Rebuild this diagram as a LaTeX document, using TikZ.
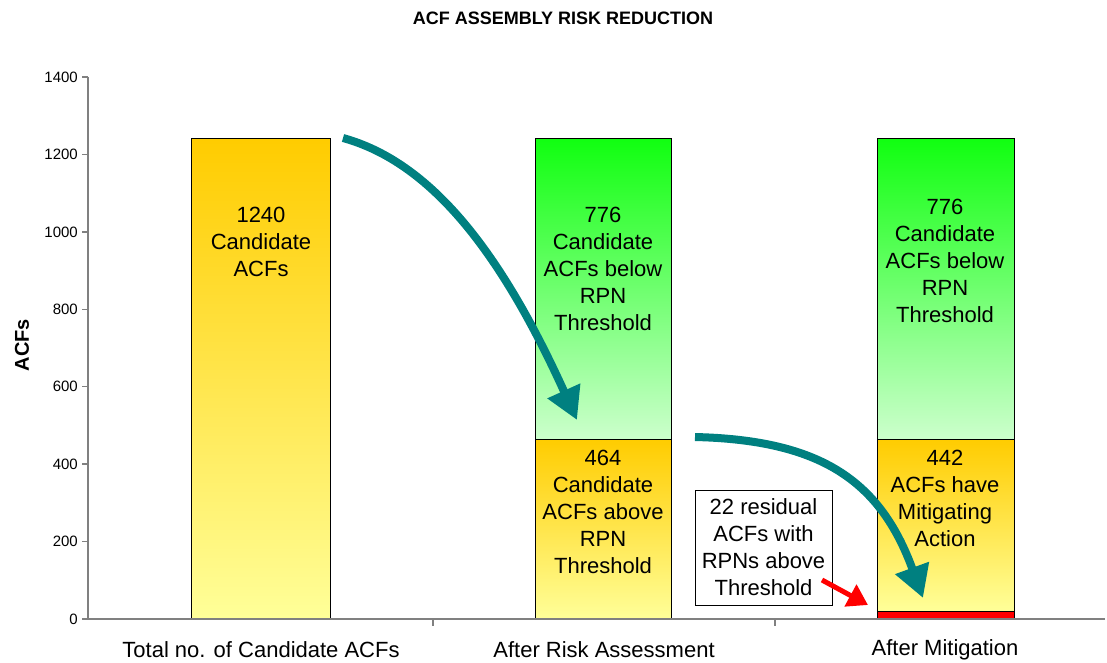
\documentclass[tikz,border=0pt]{standalone}
\usepackage{fontspec}
\setmainfont{Liberation Sans}
\usetikzlibrary{arrows.meta}
\definecolor{teal}{RGB}{0,128,128}
\definecolor{goldtop}{RGB}{255,204,0}
\definecolor{goldbot}{RGB}{255,255,153}
\definecolor{greentop}{RGB}{17,255,17}
\definecolor{greenbot}{RGB}{204,255,204}
\definecolor{axisgray}{RGB}{128,128,128}
\begin{document}
\begin{tikzpicture}[x=1pt,y=-1pt,
		axisline/.style={draw=axisgray, line width=1.3pt},
		goldbar/.style={top color=goldtop, bottom color=goldbot, draw=black, line width=1pt},
		greenbar/.style={top color=greentop, bottom color=greenbot, draw=black, line width=1pt},
		bartext/.style={align=center, inner sep=0pt, anchor=north, font=\fontsize{22}{27}\selectfont},
		ticklabel/.style={anchor=east, inner sep=0pt, font=\fontsize{15}{18}\selectfont},
		catlabel/.style={inner sep=0pt, font=\fontsize{22}{26}\selectfont},
		flow/.style={draw=teal, line width=8pt, -{Triangle[width=34pt,length=32pt]}}
		]
		\useasboundingbox (0,0) rectangle (1107,663);
		% title and axis label
		\node[font=\fontsize{18}{20}\selectfont\bfseries] (title) at (563,18) {ACF ASSEMBLY RISK REDUCTION};
		\node[font=\fontsize{20}{24}\selectfont\bfseries, rotate=90] (ylabel) at (22,345) {ACFs};
		% bars
		\shade[goldbar] (191,139) rectangle (330,619);
		\shade[greenbar] (535,139) rectangle (671,439);
		\shade[goldbar] (535,439) rectangle (671,619);
		\shade[greenbar] (877,139) rectangle (1014,439);
		\shade[goldbar] (877,439) rectangle (1014,611);
		\filldraw[fill=red, draw=black, line width=1pt] (877,611) rectangle (1014,619);
		% axes
		\draw[axisline] (88,77) -- (88,619) -- (1105,619);
		\foreach \v in {0,200,...,1400}
		{
			\draw[axisline] (82,{619-\v*0.38714}) -- (88,{619-\v*0.38714});
			\node[ticklabel] (t\v) at (78,{619-\v*0.38714}) {\v};
		}
		\foreach \x in {433,775}
		\draw[axisline] (\x,619) -- (\x,626);
		% bar texts
		\node[bartext] (total) at (261,207) {1240\\Candidate\\ACFs};
		\node[bartext] (below) at (603,207) {776\\Candidate\\ACFs below\\RPN\\Threshold};
		\node[bartext] (above) at (603,450) {464\\Candidate\\ACFs above\\RPN\\Threshold};
		\node[bartext] (kept) at (945,199) {776\\Candidate\\ACFs below\\RPN\\Threshold};
		\node[bartext] (mitig) at (945,450) {442\\ACFs have\\Mitigating\\Action};
		\node[draw=black, fill=white, line width=1pt, align=center, minimum width=137pt, minimum height=115pt,
		inner sep=0pt, font=\fontsize{22}{27}\selectfont] (resid) at (763.5,547.5) {22 residual\\ACFs with\\RPNs above\\Threshold};
		% categories
		\node[catlabel] (c1) at (261,650) {Total no. of Candidate ACFs};
		\node[catlabel] (c2) at (604,650) {After Risk Assessment};
		\node[catlabel] (c3) at (945,650) {After Mitigation};
		% arrows
		\coordinate (s1) at (343,138);
		\coordinate (e1) at (577,420);
		\coordinate (s2) at (695,437);
		\coordinate (e2) at (923,598);
		\coordinate (rtail) at (822,580);
		\coordinate (rtip) at (868,605);
		\draw[flow] (s1) .. controls (430,162) and (500,250) .. (e1);
		\draw[flow] (s2) .. controls (820,440) and (880,480) .. (e2);
		\draw[red, line width=5pt, -{Triangle[width=24pt,length=20pt]}] (rtail) -- (rtip);
	\end{tikzpicture}
\end{document}
